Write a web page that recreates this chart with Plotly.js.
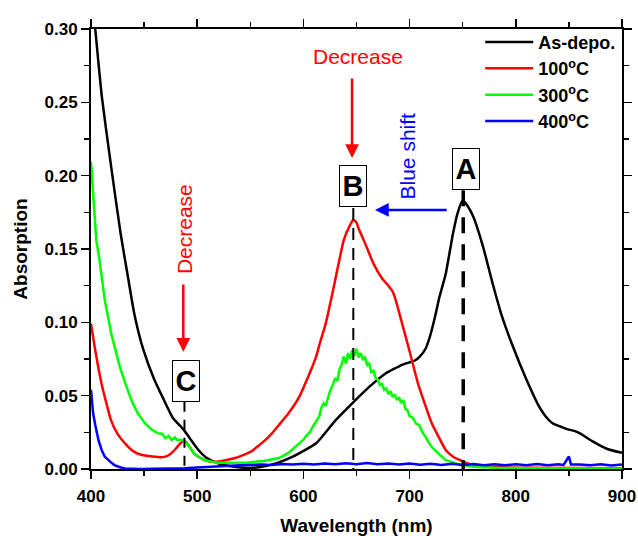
<!DOCTYPE html>
<html>
<head>
<meta charset="utf-8">
<script src="https://cdn.plot.ly/plotly-3.0.1.min.js"></script>
<style>html,body{margin:0;padding:0;background:#fff;}#chart{width:638px;height:536px;}</style>
</head>
<body>
<div id="chart"></div>
<script>
// ---- Data (wavelength in nm, absorption) ----
const seriesNames = ["As-depo.", "100<sup>o</sup>C", "300<sup>o</sup>C", "400<sup>o</sup>C"];
const seriesColors = ["#000000", "#ff0000", "#00ff00", "#0000ff"];

const asDepoX = [400,404,410,419,428,435,441,449,459,470,477,487,493,500,508,519,530,545,558,575,590,612,630,646,662,677,693,699,705,710,715,719,724,728,734,738,741,745,750,754,760,769,778,787,797,810,822,828,835,842,849,855,860,872,885,900];
const asDepoY = [0.329,0.300,0.255,0.206,0.160,0.130,0.105,0.082,0.062,0.045,0.035,0.027,0.021,0.014,0.008,0.004,0.002,0.0008,0.0012,0.004,0.0084,0.0175,0.033,0.0448,0.056,0.065,0.071,0.0725,0.074,0.077,0.082,0.090,0.104,0.117,0.133,0.149,0.161,0.174,0.183,0.180,0.172,0.152,0.127,0.104,0.084,0.061,0.0425,0.036,0.031,0.029,0.027,0.026,0.0245,0.019,0.014,0.011];

const c100X = [400,404,410,419,425,432,440,448,458,466,472,476,480,484,487,489,492,497,502,507,513,519,527,535,545,551,558,563,570,577,586,596,604,608,612,616,621,625,630,634,638,643,647,650,652,658,666,674,680,684,687,693,699,708,715,721,728,734,741,746,759,780,820,900];
const c100Y = [0.099,0.081,0.058,0.033,0.024,0.0175,0.012,0.0095,0.0085,0.008,0.009,0.011,0.014,0.0175,0.019,0.0185,0.016,0.0107,0.008,0.0061,0.005,0.005,0.006,0.0073,0.0100,0.012,0.016,0.019,0.024,0.030,0.038,0.049,0.062,0.069,0.0766,0.087,0.099,0.112,0.129,0.143,0.156,0.165,0.170,0.168,0.164,0.154,0.140,0.130,0.125,0.121,0.115,0.099,0.083,0.058,0.043,0.031,0.021,0.013,0.0084,0.0065,0.0027,0.0013,0.0008,0.0005];

const c300X = [400,405,408,413,419,423,427,433,438,444,451,457,463,467,470,473,476,479,481,485,488,491,494,497,502,507,513,519,534,548,563,577,586,596,600,603,606,609,612,615,617,619,621,623,625,628,630,632,634,636,638,640,642,644,646,648,650,652,654,656,658,660,662,664,666,668,670,672,674,676,678,680,682,684,686,688,690,692,694,696,698,700,703,706,709,712,715,718,721,725,728,734,741,748,760,780,820,860,900];
const c300Y = [0.2095,0.156,0.1425,0.115,0.0925,0.082,0.070,0.057,0.047,0.038,0.031,0.027,0.0243,0.024,0.021,0.0225,0.0198,0.0215,0.020,0.0198,0.019,0.0164,0.014,0.0107,0.008,0.006,0.005,0.0043,0.0043,0.0045,0.0055,0.0075,0.011,0.0175,0.020,0.023,0.025,0.029,0.033,0.036,0.042,0.0448,0.043,0.049,0.053,0.058,0.062,0.060,0.068,0.071,0.0766,0.072,0.079,0.075,0.081,0.077,0.082,0.076,0.079,0.075,0.076,0.071,0.072,0.066,0.067,0.062,0.061,0.0573,0.058,0.054,0.055,0.051,0.053,0.049,0.051,0.047,0.049,0.045,0.047,0.041,0.040,0.036,0.035,0.031,0.030,0.025,0.022,0.018,0.015,0.012,0.010,0.006,0.0045,0.003,0.0015,0.0008,0.0005,0.0004,0.0003];

const c400X = [400,402,404,407,410,413,418,422,428,432,445,457,475,488,500,520,540,560,570,580,590,600,610,620,630,640,650,660,670,680,690,700,710,720,730,740,750,760,770,780,790,800,810,820,830,840,845,850,852,860,870,880,890,900];
const c400Y = [0.054,0.038,0.030,0.0198,0.013,0.0084,0.005,0.0027,0.001,0.0003,0.0,0.0,0.0003,0.0005,0.001,0.002,0.0025,0.003,0.0028,0.0034,0.003,0.0036,0.0031,0.0038,0.0032,0.0039,0.0033,0.004,0.0032,0.0038,0.003,0.0037,0.0029,0.0036,0.0028,0.0035,0.0027,0.0034,0.0026,0.0033,0.0025,0.0033,0.0026,0.0034,0.0025,0.0032,0.0028,0.0085,0.003,0.0031,0.0025,0.0032,0.0024,0.003];

const xTickVals = [400,500,600,700,800,900];
const yTickVals = [0.00,0.05,0.10,0.15,0.20,0.25,0.30];

const FONT = "Liberation Sans, Arial, sans-serif";

const xs = [asDepoX, c100X, c300X, c400X];
const ys = [asDepoY, c100Y, c300Y, c400Y];
const smooth = [true, true, false, false];
const traces = xs.map((x, i) => ({
  x: x, y: ys[i], type: "scatter", mode: "lines", name: seriesNames[i],
  line: smooth[i] ? {color: seriesColors[i], width: 2.5, shape: "spline", smoothing: 0.5}
                  : {color: seriesColors[i], width: 2.5}
}));

const boxFont = {family: FONT, size: 29, color: "#000", weight: "bold"};
const boxCommon = {xref: "x", yref: "y", showarrow: false, font: boxFont,
  bordercolor: "#000", borderwidth: 1, borderpad: 1, bgcolor: "#fff", width: 24, height: 38};
const annotations = [
  {x: 651.4, y: 0.281, xref: "x", yref: "y", text: "Decrease", showarrow: false,
   font: {family: FONT, size: 21, color: "#ff0000"}},
  {x: 645.8, y: 0.212, ax: 645.8, ay: 0.2673, xref: "x", yref: "y", axref: "x", ayref: "y",
   text: "", showarrow: true, arrowhead: 2, arrowsize: 1.1, arrowwidth: 2.5, arrowcolor: "#ff0000"},
  Object.assign({x: 647, y: 0.1928, text: "B"}, boxCommon),
  Object.assign({x: 752.8, y: 0.2045, text: "A"}, boxCommon),
  Object.assign({x: 489.5, y: 0.060, text: "C"}, boxCommon),
  {x: 698, y: 0.2134, xref: "x", yref: "y", text: "Blue shift", showarrow: false, textangle: -90,
   font: {family: FONT, size: 21, color: "#0000ff"}},
  {x: 667.4, y: 0.1766, ax: 736.4, ay: 0.1766, xref: "x", yref: "y", axref: "x", ayref: "y",
   text: "", showarrow: true, arrowhead: 2, arrowsize: 1.1, arrowwidth: 2.5, arrowcolor: "#0000ff"},
  {x: 487.6, y: 0.1636, xref: "x", yref: "y", text: "Decrease", showarrow: false, textangle: -90,
   font: {family: FONT, size: 21, color: "#ff0000"}},
  {x: 486.9, y: 0.080, ax: 486.9, ay: 0.1268, xref: "x", yref: "y", axref: "x", ayref: "y",
   text: "", showarrow: true, arrowhead: 2, arrowsize: 1.1, arrowwidth: 2.5, arrowcolor: "#ff0000"}
];

const shapes = [
  {type: "line", xref: "x", yref: "y", x0: 647, x1: 647, y0: 0.178, y1: 0,
   line: {color: "#000", width: 2, dash: "12px,8px"}},
  {type: "line", xref: "x", yref: "y", x0: 750.5, x1: 750.5, y0: 0.19, y1: 0,
   line: {color: "#000", width: 3.5, dash: "16px,11px"}},
  {type: "line", xref: "x", yref: "y", x0: 488, x1: 488, y0: 0.0459, y1: 0,
   line: {color: "#000", width: 2, dash: "10px,8px"}}
];

const axisCommon = {
  showline: true, linecolor: "#000", linewidth: 2, mirror: "allticks",
  ticks: "outside", ticklen: 8, tickwidth: 1.5, tickcolor: "#000",
  showgrid: false, zeroline: false,
  tickfont: {family: FONT, size: 17, color: "#000", weight: "bold"}
};

const layout = {
  width: 638, height: 536,
  margin: {l: 91, r: 16, t: 29, b: 67, pad: 0, autoexpand: false},
  paper_bgcolor: "#fff", plot_bgcolor: "#fff",
  showlegend: true,
  legend: {x: 0.733, xanchor: "left", y: 1.012, yanchor: "top", bgcolor: "rgba(0,0,0,0)",
    font: {family: FONT, size: 18, color: "#000", weight: "bold"}, itemwidth: 48,
    tracegroupgap: 0},
  xaxis: Object.assign({}, axisCommon, {
    range: [400, 900], tickvals: xTickVals, ticktext: xTickVals.map(String),
    ticklabelstandoff: 3, automargin: false,
    minor: {dtick: 50, tick0: 400, ticks: "outside", ticklen: 5, tickwidth: 1.5, tickcolor: "#000"},
    title: {text: "Wavelength (nm)", standoff: 23,
      font: {family: FONT, size: 19, color: "#000", weight: "bold"}}
  }),
  yaxis: Object.assign({}, axisCommon, {
    range: [0, 0.30], tickvals: yTickVals, ticktext: yTickVals.map(v => v.toFixed(2)),
    automargin: false,
    minor: {dtick: 0.025, tick0: 0, ticks: "outside", ticklen: 5, tickwidth: 1.5, tickcolor: "#000"},
    title: {text: "Absorption", standoff: 12,
      font: {family: FONT, size: 19, color: "#000", weight: "bold"}}
  }),
  annotations: annotations,
  shapes: shapes
};

Plotly.newPlot("chart", traces, layout, {displayModeBar: false, staticPlot: true});
</script>
</body>
</html>
